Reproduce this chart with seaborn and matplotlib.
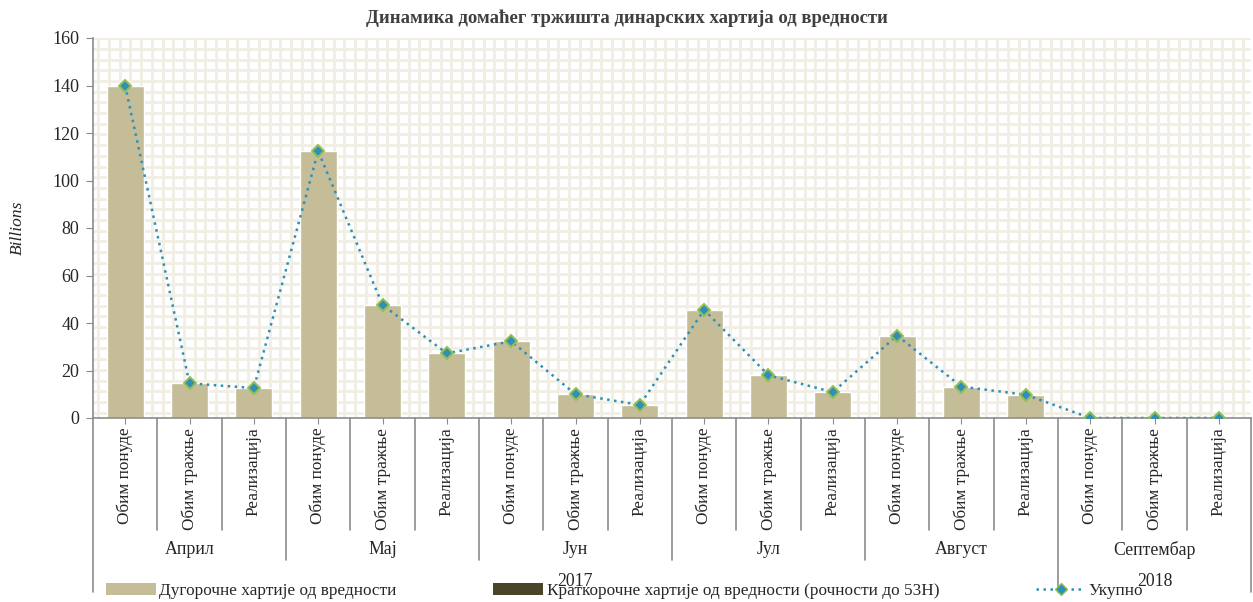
import numpy as np
import pandas as pd
import matplotlib
matplotlib.use("Agg")
import matplotlib.pyplot as plt
import seaborn as sns
from matplotlib.patches import Patch
from matplotlib.lines import Line2D

# --- data (billions of dinars) ---
months = ["Април", "Мај", "Јун", "Јул", "Август", "Септембар"]
kinds = ["Обим понуде", "Обим тражње", "Реализација"]
years = ["2017", "2018"]
year_months = [5, 1]  # number of months belonging to each year

long_term = [140.0, 14.6, 12.6,
             112.4, 47.6, 27.2,
             32.3, 10.0, 5.5,
             45.5, 18.0, 10.9,
             34.7, 13.2, 9.8,
             0.0, 0.0, 0.0]
short_term = [0.0] * 18
total = [a + b for a, b in zip(long_term, short_term)]

cat_labels = kinds * len(months)
df = pd.DataFrame({
    "pos": [str(i) for i in range(len(cat_labels))],
    "long": long_term,
    "short": short_term,
    "total": total,
})

BAR = "#c4bd97"
SHORT = "#4a4529"
LINE = "#2e90b8"
EDGE = "#93bf52"
AXC = "#8c8c8c"
GRIDC = "#f1eee3"

sns.set_style("white")
plt.rcParams["font.family"] = ["Liberation Serif", "DejaVu Serif"]

fig = plt.figure(figsize=(12.53, 6.02), dpi=100)
ax = fig.add_axes([93 / 1253, 184 / 602, 1158 / 1253, 380 / 602])
n = len(cat_labels)

# patterned background: small beige grid
w_px, h_px = 1158, 380
pitch = 10.7
for xp in np.arange(pitch / 2, w_px, pitch):
    ax.axvline(-0.5 + xp / w_px * n, color=GRIDC, lw=2.0, zorder=0)
for yp in np.arange(pitch / 2, h_px, pitch):
    ax.axhline(yp / h_px * 160, color=GRIDC, lw=2.0, zorder=0)

sns.barplot(data=df, x="pos", y="long", color=BAR, width=0.57,
            saturation=1, ax=ax, zorder=2)
sns.barplot(data=df, x="pos", y="short", color=SHORT, width=0.57,
            saturation=1, ax=ax, zorder=2)
sns.lineplot(x=np.arange(len(total)), y=total, ax=ax, color=LINE,
             linestyle=(0, (1, 1.8)), lw=1.8, marker="D", markersize=6,
             markerfacecolor=LINE, markeredgecolor=EDGE, markeredgewidth=1.4,
             zorder=4)

ax.set_xlim(-0.5, n - 0.5)
ax.set_ylim(0, 160)
ax.set_yticks(range(0, 161, 20))
ax.tick_params(axis="y", labelsize=13, length=5, color=AXC, direction="out",
               left=True, pad=5)
ax.set_xticks(range(n))
ax.set_xticklabels(cat_labels, rotation=90, fontsize=12.4)
ax.tick_params(axis="x", length=4, color=AXC, direction="out", bottom=True, pad=3)
ax.set_xlabel("")
ax.set_ylabel("Billions", fontsize=12.5, style="italic")
ax.yaxis.set_label_coords(-67 / 1158, 0.5)

for s in ["top", "right"]:
    ax.spines[s].set_visible(False)
for s in ["left", "bottom"]:
    ax.spines[s].set_color(AXC)
    ax.spines[s].set_linewidth(1.2)

# multi-level category axis separators
tr = ax.get_xaxis_transform()
month_bounds = [3 * i - 0.5 for i in range(1, len(months))]
year_bounds = [-0.5, 3 * sum(year_months[:1]) - 0.5, n - 0.5]
for b in np.arange(0.5, n - 0.5, 1.0):
    if b in month_bounds or b in year_bounds:
        continue
    ax.plot([b, b], [0, -112 / 380], transform=tr, color=AXC, lw=1.2, clip_on=False)
for b in month_bounds:
    if b in year_bounds:
        continue
    ax.plot([b, b], [0, -142 / 380], transform=tr, color=AXC, lw=1.2, clip_on=False)
for b in year_bounds:
    ax.plot([b, b], [0, -174 / 380], transform=tr, color=AXC, lw=1.2, clip_on=False)

for i, m in enumerate(months):
    ax.text(3 * i + 1, -132 / 380, m, transform=tr, ha="center", va="center",
            fontsize=12.8)
start = 0
for y, k in zip(years, year_months):
    centre = start * 3 + (k * 3 - 1) / 2
    ax.text(centre, -164 / 380, y, transform=tr, ha="center", va="center",
            fontsize=12.8)
    start += k

fig.text(0.5, 0.970, "Динамика домаћег тржишта динарских хартија од вредности",
         ha="center", va="center", fontsize=13.5, fontweight="bold", color="#404040")

handles = [
    Patch(facecolor=BAR, edgecolor="none"),
    Patch(facecolor=SHORT, edgecolor="none"),
    Line2D([], [], color=LINE, linestyle=(0, (1, 1.8)), lw=1.8, marker="D",
           markersize=6, markerfacecolor=LINE, markeredgecolor=EDGE),
]
labels = ["Дугорочне хартије од вредности",
          "Краткорочне хартије од вредности (рочности до 53Н)",
          "Укупно"]
fig.legend(handles, labels, loc="center left", bbox_to_anchor=(106 / 1253, 11 / 602),
           ncol=3, frameon=False, fontsize=12.4, handlelength=2.9, handleheight=0.7,
           handletextpad=0.2, columnspacing=5.6, borderpad=0, borderaxespad=0)

fig.savefig("out.png", dpi=100)
